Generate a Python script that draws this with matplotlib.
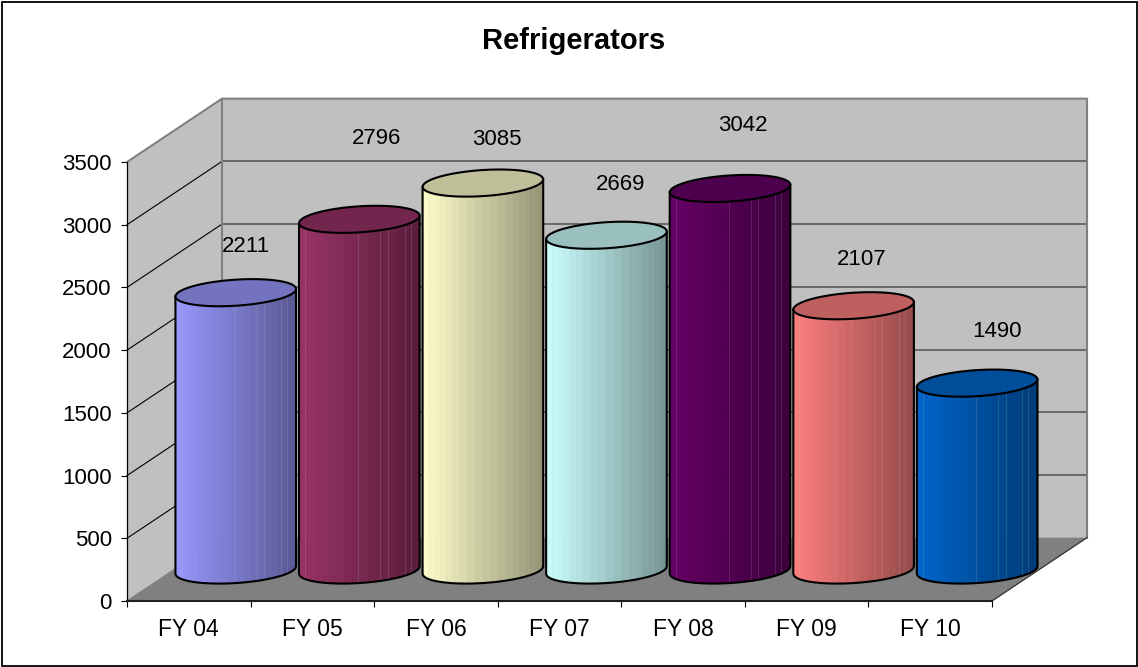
import numpy as np
import matplotlib
matplotlib.use("Agg")
import matplotlib.pyplot as plt
from matplotlib.patches import Polygon, Rectangle
from matplotlib.collections import PolyCollection
from matplotlib.colors import to_rgb

plt.rcParams['font.family'] = ['Liberation Sans', 'DejaVu Sans']

categories = ["FY 04", "FY 05", "FY 06", "FY 07", "FY 08", "FY 09", "FY 10"]
values = [2211, 2796, 3085, 2669, 3042, 2107, 1490]
bar_colors = ["#9999FF", "#993366", "#FFFFCC", "#CCFFFF", "#660066", "#FF8080", "#0066CC"]
y_ticks = [0, 500, 1000, 1500, 2000, 2500, 3000, 3500]

# labels were moved by hand in the original, offset from the bar top in pixels
label_offsets = [(10, 46), (17, 81), (14, 44), (14, 51), (13, 63), (8, 46), (20, 52)]

W, H = 1138, 667
fig = plt.figure(figsize=(W / 100, H / 100), dpi=100)
fig.patch.set_facecolor("white")
fig.add_artist(Rectangle((1.5 / W, 1.5 / H), (W - 3) / W, (H - 3) / H, transform=fig.transFigure,
                         fill=False, ec="black", lw=1.3))

ax = fig.add_axes([127 / W, (H - 601) / H, 865 / W, 439 / H])
ax.set_xlim(-0.5, 6.5)
ax.set_ylim(0, 3500)
ax.patch.set_visible(False)

# depth of the 3d box and the position of the cylinders in it, in data units
box_dx, box_dy = 0.769, 505
mid_dx, mid_dy = 0.38, 247
rx, ry, skew = 0.488, 104, 30
x0, x1 = -0.5, 6.5
ymax = y_ticks[-1]

ax.add_patch(Polygon([(x0, 0), (x0, ymax), (x0 + box_dx, ymax + box_dy), (x0 + box_dx, box_dy)],
                     fc="#C0C0C0", ec="none", clip_on=False, zorder=1))
ax.add_patch(Rectangle((x0 + box_dx, box_dy), x1 - x0, ymax, fc="#C0C0C0", ec="none", clip_on=False, zorder=1))
ax.add_patch(Polygon([(x0, 0), (x1, 0), (x1 + box_dx, box_dy), (x0 + box_dx, box_dy)],
                     fc="#808080", ec="none", clip_on=False, zorder=1))

for t in y_ticks[1:-1]:
    ax.plot([x0, x0 + box_dx], [t, t + box_dy], color="black", lw=0.8, clip_on=False, zorder=2)
    ax.plot([x0 + box_dx, x1 + box_dx], [t + box_dy, t + box_dy], color="#505050", lw=1.1, clip_on=False, zorder=2)
# box edges
ax.plot([x0, x0 + box_dx, x1 + box_dx, x1 + box_dx], [ymax, ymax + box_dy, ymax + box_dy, box_dy],
        color="#808080", lw=1.5, clip_on=False, zorder=2)
ax.plot([x0 + box_dx, x0 + box_dx], [box_dy, ymax + box_dy], color="#808080", lw=1.5, clip_on=False, zorder=2)
ax.plot([x1, x1 + box_dx], [0, box_dy], color="#303030", lw=0.9, clip_on=False, zorder=2)
ax.plot([x0, x0 + box_dx], [0, box_dy], color="#808080", lw=0.9, clip_on=False, zorder=2)

seams = [0.05, 0.49, 0.675, 0.736, 0.875, 0.925]


def shade(col, frac):
    return tuple(c * (1.0 - 0.42 * frac) for c in to_rgb(col))


def draw_cylinder(i, val, col):
    cx = i + mid_dx
    t = np.linspace(np.pi, 0, 25)
    xs = cx + rx * np.cos(t)
    low = -ry * np.sin(t) + skew * np.cos(t)
    fr = (xs - xs[0]) / (xs[-1] - xs[0])
    # side of the cylinder, one facet per step
    verts, cols = [], []
    for k in range(len(t) - 1):
        verts.append([(xs[k], mid_dy + low[k]), (xs[k + 1], mid_dy + low[k + 1]),
                      (xs[k + 1], mid_dy + val + low[k + 1]), (xs[k], mid_dy + val + low[k])])
        cols.append(shade(col, (fr[k] + fr[k + 1]) / 2))
    ax.add_collection(PolyCollection(verts, facecolors=cols, edgecolors=cols, linewidths=0.7,
                                     clip_on=False, zorder=3))
    for f in seams:
        sx = xs[0] + f * (xs[-1] - xs[0])
        sl = np.interp(sx, xs, low)
        lighter = tuple(min(1, c * 0.6 + 0.4 * 0.75) for c in shade(col, f))
        ax.plot([sx, sx], [mid_dy + sl, mid_dy + val + sl], color=lighter, lw=0.5, alpha=0.6, clip_on=False, zorder=3.1)
    # outline of the side
    ax.plot(np.r_[xs[0], xs, xs[-1]], np.r_[mid_dy + val + low[0], mid_dy + low, mid_dy + val + low[-1]],
            color="black", lw=1.5, clip_on=False, zorder=3.2)
    # top ellipse
    tt = np.linspace(0, 2 * np.pi, 49)
    ex = cx + rx * np.cos(tt)
    ey = mid_dy + val + ry * np.sin(tt) + skew * np.cos(tt)
    ax.add_patch(Polygon(np.c_[ex, ey], closed=True, fc=tuple(c * 0.75 for c in to_rgb(col)), ec="black", lw=1.5,
                         clip_on=False, zorder=3.3))


for i, (v, c) in enumerate(zip(values, bar_colors)):
    draw_cylinder(i, v, c)
    off = label_offsets[i]
    ax.annotate(str(v), (i + mid_dx, mid_dy + v), xytext=(off[0] * 0.72, off[1] * 0.72),
                textcoords="offset points", ha="center", va="center", fontsize=16, color="black",
                annotation_clip=False, zorder=5)

ax.spines["top"].set_visible(False)
ax.spines["right"].set_visible(False)
ax.spines["left"].set_color("black")
ax.spines["left"].set_linewidth(0.9)
ax.spines["bottom"].set_color("#202020")
ax.spines["bottom"].set_linewidth(1.5)
for s in ax.spines.values():
    s.set_zorder(4)

ax.set_yticks(y_ticks)
ax.tick_params(axis="y", direction="out", length=4, width=0.8, labelsize=16, pad=7)
ax.set_xticks(np.arange(-0.5, 7, 1))
ax.set_xticklabels([])
ax.tick_params(axis="x", which="major", direction="out", length=4, width=0.8)
ax.set_xticks(np.arange(len(categories)), minor=True)
ax.set_xticklabels(categories, minor=True)
ax.tick_params(axis="x", which="minor", length=0, labelsize=16.5, pad=12)

fig.text(573.5 / W, (H - 41) / H, "Refrigerators", ha="center", va="center", fontsize=21, fontweight="bold")

fig.savefig("out.png", dpi=100)
